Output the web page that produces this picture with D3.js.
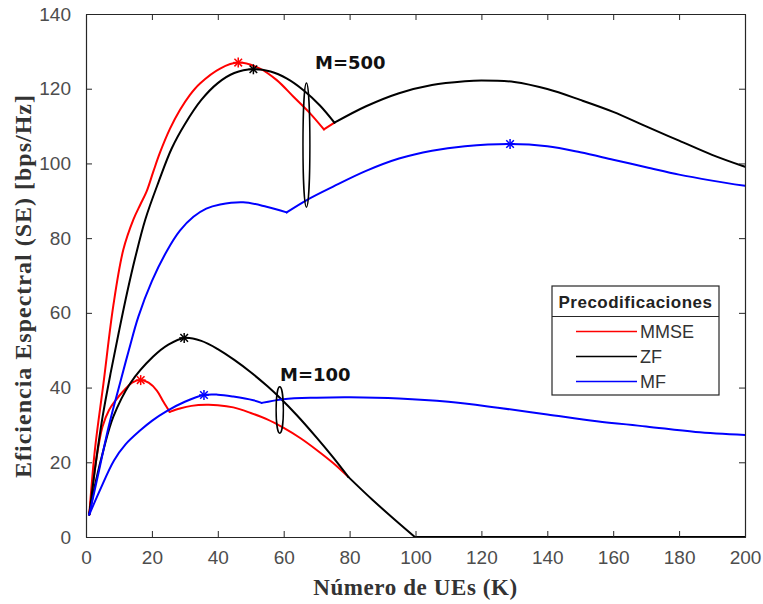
<!DOCTYPE html>
<html>
<head>
<meta charset="utf-8">
<script src="https://cdn.jsdelivr.net/npm/d3@7"></script>
<style>
  body { margin: 0; background: #fff; }
  svg { display: block; }
</style>
</head>
<body>
<svg id="chart" width="763" height="604"></svg>
<script>
// Axis ticks
const xTicks = [0, 20, 40, 60, 80, 100, 120, 140, 160, 180, 200];
const yTicks = [0, 20, 40, 60, 80, 100, 120, 140];

// Legend
const seriesNames = ["MMSE", "ZF", "MF"];
const seriesColors = ["#ff0000", "#000000", "#0000ff"];
const legendTitle = "Precodificaciones";

// Spectral efficiency vs number of UEs, M = 500 antennas
const kMMSE500  = [1, 2.7, 5.3, 8.3, 11.3, 14.4, 16.5, 18.4, 20.5, 22.5, 25.5, 28.5, 31.5, 34.6, 40.7, 46.2, 52.8, 57.9, 62.9, 68, 72.2, 75.4];
const seMMSE500 = [6, 23.3, 41.1, 62, 76.8, 85, 89, 92.5, 98, 103, 109.3, 114.3, 118.3, 121.4, 125.4, 127.0, 125.4, 122.3, 117.9, 113.4, 109.1, 110.9];
const kinkMMSE500 = [72.2];

const kZF500  = [1, 3, 5, 7.5, 10, 12.5, 15, 18, 22, 26, 30, 35, 40, 45, 50.8, 56, 61, 66, 71, 75.4, 85, 95, 105, 115, 120, 130, 140, 150, 160, 170, 180, 190, 200];
const seZF500 = [6, 20, 32, 44, 55, 65.5, 75, 85, 95, 104, 110.5, 117, 121.5, 124.2, 125.2, 124.6, 122.7, 119.6, 115.5, 110.9, 115.3, 118.8, 121.0, 122.0, 122.2, 121.8, 119.9, 117.0, 113.8, 109.9, 106.1, 102.3, 99.1];
const kinkZF500 = [75.4];

const kMF500  = [1, 4, 7, 10.3, 13, 15.9, 20, 24.5, 28.5, 32.6, 36.5, 40.7, 47.7, 54.8, 60.9, 67, 75, 85, 95, 105, 115, 128.7, 140, 150, 160, 170, 180, 190, 200];
const seMF500 = [6, 18, 30, 41.1, 50, 59, 68.5, 76.5, 82, 85.7, 87.9, 89.0, 89.6, 88.4, 86.9, 90.2, 93.8, 98.0, 101.3, 103.4, 104.6, 105.2, 104.6, 103.0, 101.0, 99.0, 97.0, 95.4, 94.0];
const kinkMF500 = [60.9];

// Spectral efficiency vs number of UEs, M = 100 antennas
const kMMSE100  = [1, 3, 5, 7, 9, 11.3, 14, 16.6, 19, 21.5, 23.5, 25.4, 28.5, 32, 36.6, 40, 44.7, 50, 55, 60, 65, 70, 75, 79.6];
const seMMSE100 = [6, 20, 29.5, 34, 36.6, 39, 41.3, 42.0, 41.3, 39.2, 36.2, 33.5, 34.4, 35.1, 35.4, 35.3, 34.7, 33.2, 31.5, 29.2, 26.5, 23.3, 19.8, 16.1];
const kinkMMSE100 = [25.4];

const kZF100  = [1, 3, 5.3, 8.3, 13.4, 20.4, 25, 29.8, 35, 40, 45, 50, 55, 58.9, 64, 70, 75, 79.6, 87, 95.3, 99.8, 120, 140, 160, 180, 200];
const seZF100 = [6, 15, 23.3, 32.2, 41.1, 48.3, 51.5, 53.3, 52.5, 50.3, 47.4, 44.1, 40.4, 37.2, 32.6, 26.6, 21.3, 16.1, 9.9, 3.4, 0, 0, 0, 0, 0, 0];
const kinkZF100 = [79.6, 99.8];

const kMF100  = [1, 4.2, 8.5, 12, 16.4, 20, 24.5, 30, 35.8, 40, 44.7, 50.8, 53.3, 59.9, 70, 80, 95, 110, 125, 140, 155, 170, 185, 200];
const seMF100 = [6, 12.5, 20.5, 24.8, 28.5, 31.1, 33.7, 36.2, 38.0, 38.1, 37.6, 36.6, 35.9, 36.9, 37.3, 37.4, 37.1, 36.2, 34.6, 32.8, 31.0, 29.6, 28.1, 27.3];
const kinkMF100 = [53.3];

// Maximum of each curve (asterisks): MMSE, ZF, MF
const peakK500  = [46.2, 50.8, 128.7];
const peakSE500 = [127.0, 125.2, 105.2];
const peakK100  = [16.6, 29.8, 35.8];
const peakSE100 = [42.0, 53.3, 38.0];

// Group annotations: text, anchor (K, SE) and the ellipse grouping the curves
const groupText = ["M=500", "M=100"];
const groupTextK = [69.5, 58.9];
const groupTextSE = [125.3, 41.8];
const ellipseK = [66.9, 58.8];
const ellipseSE = [104.9, 34.0];
const ellipseRK = [1.05, 1.1];
const ellipseRSE = [16.6, 6.2];

const svg = d3.select("#chart");
const x = d3.scaleLinear().domain([0, 200]).range([86, 745]);
const y = d3.scaleLinear().domain([0, 140]).range([537, 14]);

const axisColor = "#262626";
const tickColor = "#4d4d4d";

// Curves are smooth between kinks; each piece is drawn on its own so the
// corners stay sharp.
const line = d3.line()
  .x(d => x(d[0]))
  .y(d => y(d[1]))
  .curve(d3.curveCatmullRom.alpha(0.5));

function pieces(k, se, kinks) {
  const out = [];
  let cur = [];
  k.forEach((v, i) => {
    cur.push([v, se[i]]);
    if (kinks.includes(v)) {
      out.push(cur);
      cur = [[v, se[i]]];
    }
  });
  if (cur.length > 1) out.push(cur);
  return out;
}

const curves = [
  { k: kMMSE500, se: seMMSE500, kinks: kinkMMSE500, c: 0 },
  { k: kMMSE100, se: seMMSE100, kinks: kinkMMSE100, c: 0 },
  { k: kZF500, se: seZF500, kinks: kinkZF500, c: 1 },
  { k: kZF100, se: seZF100, kinks: kinkZF100, c: 1 },
  { k: kMF500, se: seMF500, kinks: kinkMF500, c: 2 },
  { k: kMF100, se: seMF100, kinks: kinkMF100, c: 2 }
];

const plot = svg.append("g");
const curveG = plot.selectAll("g.curve")
  .data(curves)
  .join("g")
  .attr("class", "curve")
  .attr("fill", "none")
  .attr("stroke", d => seriesColors[d.c])
  .attr("stroke-width", 2)
  .attr("stroke-linejoin", "round")
  .attr("stroke-linecap", "round");
curveG.selectAll("path")
  .data(d => pieces(d.k, d.se, d.kinks))
  .join("path")
  .attr("d", d => line(d));

// Asterisk markers at the maxima
const peaks = [];
for (let i = 0; i < 3; i++) {
  peaks.push({ k: peakK500[i], se: peakSE500[i], c: i });
  peaks.push({ k: peakK100[i], se: peakSE100[i], c: i });
}
const r = 5, rd = 3.8;
const star = plot.selectAll("g.star")
  .data(peaks)
  .join("g")
  .attr("class", "star")
  .attr("transform", d => `translate(${x(d.k)},${y(d.se)})`)
  .attr("stroke", d => seriesColors[d.c])
  .attr("stroke-width", 1.5);
star.append("line").attr("x1", -r).attr("x2", r).attr("y1", 0).attr("y2", 0);
star.append("line").attr("x1", 0).attr("x2", 0).attr("y1", -r).attr("y2", r);
star.append("line").attr("x1", -rd).attr("x2", rd).attr("y1", -rd).attr("y2", rd);
star.append("line").attr("x1", -rd).attr("x2", rd).attr("y1", rd).attr("y2", -rd);

// Ellipses grouping the curves of each M
plot.selectAll("ellipse.group")
  .data(groupText.map((t, i) => i))
  .join("ellipse")
  .attr("class", "group")
  .attr("cx", i => x(ellipseK[i]))
  .attr("cy", i => y(ellipseSE[i]))
  .attr("rx", i => x(ellipseRK[i]) - x(0))
  .attr("ry", i => y(0) - y(ellipseRSE[i]))
  .attr("fill", "none")
  .attr("stroke", "#000")
  .attr("stroke-width", 1.5);

plot.selectAll("text.group")
  .data(groupText.map((t, i) => i))
  .join("text")
  .attr("class", "group")
  .attr("x", i => x(groupTextK[i]))
  .attr("y", i => y(groupTextSE[i]))
  .attr("font-family", "DejaVu Sans, sans-serif")
  .attr("font-weight", "bold")
  .attr("font-size", 18)
  .attr("fill", "#111")
  .text(i => groupText[i]);

// Axes box with inward ticks on all sides
const axes = svg.append("g");
const tickLen = 6;
const xAxisB = d3.axisBottom(x).tickValues(xTicks).tickSizeInner(-tickLen).tickSizeOuter(0).tickPadding(14);
const xAxisT = d3.axisTop(x).tickValues(xTicks).tickSizeInner(-tickLen).tickSizeOuter(0).tickFormat("");
const yAxisL = d3.axisLeft(y).tickValues(yTicks).tickSizeInner(-tickLen).tickSizeOuter(0).tickPadding(15);
const yAxisR = d3.axisRight(y).tickValues(yTicks).tickSizeInner(-tickLen).tickSizeOuter(0).tickFormat("");

const gB = axes.append("g").attr("transform", `translate(0,${y(0)})`).call(xAxisB);
const gT = axes.append("g").attr("transform", `translate(0,${y(140)})`).call(xAxisT);
const gL = axes.append("g").attr("transform", `translate(${x(0)},0)`).call(yAxisL);
const gR = axes.append("g").attr("transform", `translate(${x(200)},0)`).call(yAxisR);

[gB, gT, gL, gR].forEach(g => {
  g.select(".domain").attr("stroke", axisColor).attr("stroke-width", 1.2);
  g.selectAll(".tick line").attr("stroke", axisColor).attr("stroke-width", 1);
  g.selectAll(".tick text")
    .attr("font-family", "Liberation Sans, Arial, sans-serif")
    .attr("font-size", 19)
    .attr("fill", tickColor);
});

// Axis titles
svg.append("text")
  .attr("x", (x(0) + x(200)) / 2)
  .attr("y", 595)
  .attr("text-anchor", "middle")
  .attr("font-family", "Liberation Serif, Times New Roman, serif")
  .attr("font-weight", "bold")
  .attr("font-size", 23)
  .attr("letter-spacing", 0.6)
  .attr("fill", "#333")
  .text("Número de UEs (K)");

svg.append("text")
  .attr("transform", "translate(31,286) rotate(-90)")
  .attr("text-anchor", "middle")
  .attr("font-family", "Liberation Serif, Times New Roman, serif")
  .attr("font-weight", "bold")
  .attr("font-size", 24)
  .attr("letter-spacing", 1)
  .attr("fill", "#333")
  .text("Eficiencia Espectral (SE) [bps/Hz]");

// Legend
const lg = svg.append("g").attr("transform", "translate(552,286)");
const lgW = 167, lgH = 109;
lg.append("rect").attr("width", lgW).attr("height", lgH)
  .attr("fill", "#fff").attr("stroke", axisColor).attr("stroke-width", 1.2);
lg.append("line").attr("x1", 0).attr("x2", lgW).attr("y1", 30.5).attr("y2", 30.5)
  .attr("stroke", axisColor).attr("stroke-width", 1);
lg.append("text")
  .attr("x", lgW / 2).attr("y", 22)
  .attr("text-anchor", "middle")
  .attr("font-family", "Liberation Sans, Arial, sans-serif")
  .attr("font-weight", "bold")
  .attr("font-size", 17)
  .attr("letter-spacing", 0.5)
  .attr("fill", "#222")
  .text(legendTitle);
const rows = lg.selectAll("g.row")
  .data(seriesNames)
  .join("g")
  .attr("class", "row")
  .attr("transform", (d, i) => `translate(0,${45.5 + i * 25})`);
rows.append("line")
  .attr("x1", 24).attr("x2", 85).attr("y1", 0).attr("y2", 0)
  .attr("stroke", (d, i) => seriesColors[i]).attr("stroke-width", 1.5);
rows.append("text")
  .attr("x", 88).attr("y", 6.5)
  .attr("font-family", "Liberation Sans, Arial, sans-serif")
  .attr("font-size", 18)
  .attr("fill", "#333")
  .text(d => d);
</script>
</body>
</html>
